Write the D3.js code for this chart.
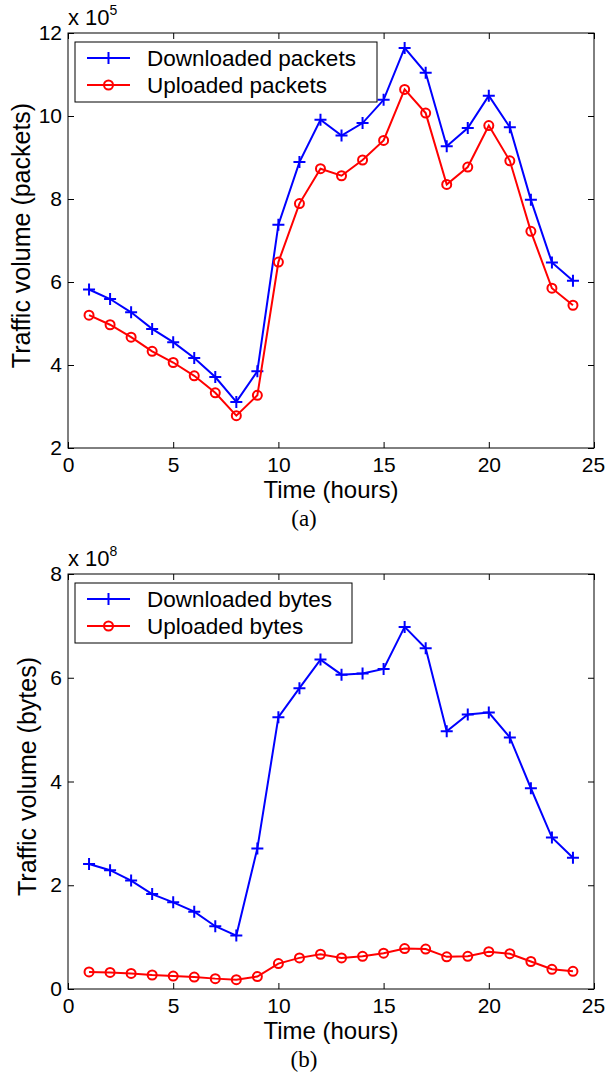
<!DOCTYPE html>
<html>
<head>
<meta charset="utf-8">
<script src="https://cdn.jsdelivr.net/npm/d3@7"></script>
<style>
  body { margin: 0; background: #fff; }
  svg { display: block; }
</style>
</head>
<body>
<svg id="chart" width="605" height="1073"></svg>
<script>
// hours on the x axis
const hours = [1, 2, 3, 4, 5, 6, 7, 8, 9, 10, 11, 12, 13, 14, 15, 16, 17, 18, 19, 20, 21, 22, 23, 24];

// panel (a), values in units of 10^5 packets
const downPackets = [5.82, 5.59, 5.27, 4.87, 4.55, 4.17, 3.71, 3.11, 3.85, 7.38, 8.89, 9.91,
                     9.53, 9.83, 10.39, 11.64, 11.04, 9.27, 9.71, 10.49, 9.73, 7.98, 6.47, 6.03];
const upPackets = [5.20, 4.97, 4.67, 4.33, 4.06, 3.74, 3.33, 2.78, 3.27, 6.48, 7.89, 8.73,
                   8.56, 8.94, 9.41, 10.64, 10.07, 8.35, 8.77, 9.77, 8.92, 7.22, 5.85, 5.44];

// panel (b), values in units of 10^8 bytes
const downBytes = [2.41, 2.29, 2.09, 1.83, 1.67, 1.49, 1.21, 1.03, 2.71, 5.24, 5.80, 6.35,
                   6.06, 6.08, 6.17, 6.98, 6.57, 4.97, 5.29, 5.33, 4.85, 3.87, 2.92, 2.53];
const upBytes = [0.33, 0.32, 0.30, 0.27, 0.25, 0.23, 0.20, 0.18, 0.24, 0.49, 0.60, 0.67,
                 0.60, 0.63, 0.69, 0.78, 0.77, 0.62, 0.63, 0.72, 0.68, 0.53, 0.38, 0.34];

const xTicks = [0, 5, 10, 15, 20, 25];
const yTicksA = [2, 4, 6, 8, 10, 12];
const yTicksB = [0, 2, 4, 6, 8];

const svg = d3.select("#chart");
svg.append("rect").attr("width", 605).attr("height", 1073).attr("fill", "#fff");

const left = 68, right = 594;
const sans = "Arial, 'Liberation Sans', Helvetica, sans-serif";

function drawPanel(opt) {
    const top = opt.top, bottom = opt.top + 415;
    const g = svg.append("g");

    const x = d3.scaleLinear().domain([0, 25]).range([left, right]);
    const y = d3.scaleLinear().domain(opt.yDomain).range([bottom, top]);

    // box
    g.append("rect")
        .attr("x", left).attr("y", top)
        .attr("width", right - left).attr("height", bottom - top)
        .attr("fill", "none").attr("stroke", "#000").attr("stroke-width", 1);

    // axes with inward ticks (matlab style)
    const xb = g.append("g").attr("transform", `translate(0,${bottom})`)
        .call(d3.axisBottom(x).tickValues(xTicks).tickSize(-6).tickPadding(9).tickFormat(d3.format("d")));
    const xt = g.append("g").attr("transform", `translate(0,${top})`)
        .call(d3.axisTop(x).tickValues(xTicks).tickSize(-6).tickFormat(""));
    const yl = g.append("g").attr("transform", `translate(${left},0)`)
        .call(d3.axisLeft(y).tickValues(opt.yTicks).tickSize(-6).tickPadding(6).tickFormat(d3.format("d")));
    const yr = g.append("g").attr("transform", `translate(${right},0)`)
        .call(d3.axisRight(y).tickValues(opt.yTicks).tickSize(-6).tickFormat(""));

    [xb, xt, yl, yr].forEach(a => {
        a.select(".domain").remove();
        a.selectAll("line").attr("stroke", "#000");
        a.selectAll("text").attr("fill", "#000").style("font-family", sans).style("font-size", "21px");
    });
    // last x label sits on the right edge, nudge it in a bit
    xb.selectAll("text").filter(d => d === 25).attr("dx", "-1");

    // exponent label
    const ex = g.append("text")
        .attr("x", left).attr("y", top - 8)
        .style("font-family", sans).style("font-size", "22px").attr("fill", "#000");
    ex.append("tspan").text("x 10");
    ex.append("tspan").attr("dy", -10).style("font-size", "14px").text(opt.exp);

    // axis labels
    g.append("text")
        .attr("x", (left + right) / 2).attr("y", bottom + 50)
        .attr("text-anchor", "middle")
        .style("font-family", sans).style("font-size", "24px")
        .text("Time (hours)");

    g.append("text")
        .attr("transform", `translate(${opt.yLabelX},${(top + bottom) / 2 - 5}) rotate(-90)`)
        .attr("text-anchor", "middle")
        .style("font-family", sans).style("font-size", "25px")
        .text(opt.yLabel);

    // caption
    g.append("text")
        .attr("x", 304).attr("y", bottom + 78)
        .attr("text-anchor", "middle")
        .style("font-family", "'Times New Roman', 'Liberation Serif', serif").style("font-size", "23px")
        .text(opt.caption);

    const line = d3.line().x((d, i) => x(hours[i])).y(d => y(d));

    // downloaded: blue with plus markers
    g.append("path").datum(opt.down)
        .attr("d", line).attr("fill", "none")
        .attr("stroke", "#0000ff").attr("stroke-width", 2);
    g.selectAll(".plus").data(opt.down).enter().append("path")
        .attr("class", "plus")
        .attr("d", (d, i) => {
            const cx = x(hours[i]), cy = y(d);
            return `M${cx - 6},${cy}H${cx + 6}M${cx},${cy - 6}V${cy + 6}`;
        })
        .attr("stroke", "#0000ff").attr("stroke-width", 2);

    // uploaded: red with circle markers
    g.append("path").datum(opt.up)
        .attr("d", line).attr("fill", "none")
        .attr("stroke", "#ff0000").attr("stroke-width", 2);
    g.selectAll(".circ").data(opt.up).enter().append("circle")
        .attr("class", "circ")
        .attr("cx", (d, i) => x(hours[i])).attr("cy", d => y(d))
        .attr("r", 4.5)
        .attr("fill", "none").attr("stroke", "#ff0000").attr("stroke-width", 2);

    // legend
    const lg = g.append("g").attr("transform", `translate(75,${top + 9})`);
    lg.append("rect")
        .attr("width", opt.legendW).attr("height", 60)
        .attr("fill", "#fff").attr("stroke", "#000").attr("stroke-width", 1);
    const items = [
        {name: opt.names[0], color: "#0000ff", marker: "plus"},
        {name: opt.names[1], color: "#ff0000", marker: "circle"}
    ];
    items.forEach((it, i) => {
        const ly = 16 + i * 27;
        lg.append("line")
            .attr("x1", 12).attr("x2", 55).attr("y1", ly).attr("y2", ly)
            .attr("stroke", it.color).attr("stroke-width", 2);
        if (it.marker === "plus") {
            lg.append("path")
                .attr("d", `M${33.5 - 6},${ly}H${33.5 + 6}M33.5,${ly - 6}V${ly + 6}`)
                .attr("stroke", it.color).attr("stroke-width", 2);
        } else {
            lg.append("circle")
                .attr("cx", 33.5).attr("cy", ly).attr("r", 4.5)
                .attr("fill", "none").attr("stroke", it.color).attr("stroke-width", 2);
        }
        lg.append("text")
            .attr("x", 72).attr("y", ly + 8)
            .style("font-family", sans).style("font-size", "22.5px")
            .text(it.name);
    });
}

drawPanel({
    top: 33, yDomain: [2, 12], yTicks: yTicksA, exp: "5",
    yLabel: "Traffic volume (packets)", yLabelX: 30, caption: "(a)",
    down: downPackets, up: upPackets,
    names: ["Downloaded packets", "Uploaded packets"], legendW: 302
});

drawPanel({
    top: 574, yDomain: [0, 8], yTicks: yTicksB, exp: "8",
    yLabel: "Traffic volume (bytes)", yLabelX: 36, caption: "(b)",
    down: downBytes, up: upBytes,
    names: ["Downloaded bytes", "Uploaded bytes"], legendW: 277
});
</script>
</body>
</html>
